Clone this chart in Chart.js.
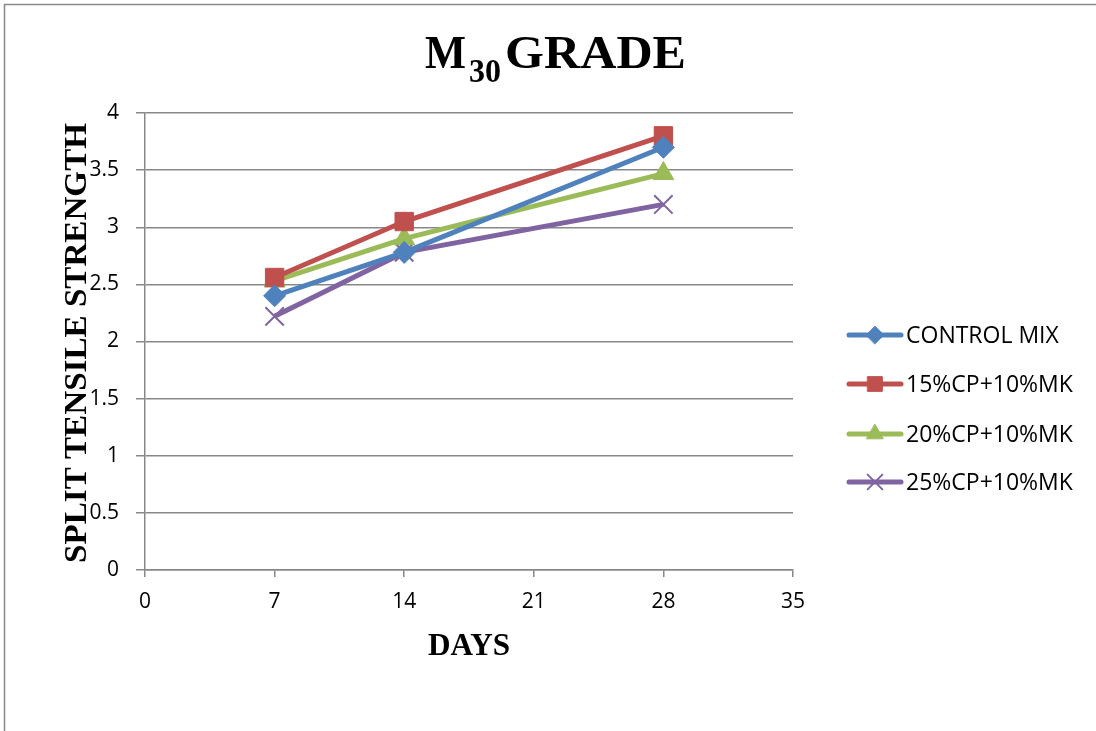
<!DOCTYPE html>
<html>
<head>
<meta charset="utf-8">
<script src="https://cdn.jsdelivr.net/npm/chart.js@4.4.1/dist/chart.umd.min.js"></script>
<style>
  html, body { margin: 0; padding: 0; background: #fff; }
  #wrap { width: 1096px; height: 731px; }
</style>
</head>
<body>
<div id="wrap"><canvas id="chart" width="1096" height="731"></canvas></div>
<script>
const days = [7, 14, 28];
const seriesNames = ['CONTROL MIX', '15%CP+10%MK', '20%CP+10%MK', '25%CP+10%MK'];
const controlMix = [2.4, 2.78, 3.7];
const cp15 = [2.56, 3.05, 3.8];
const cp20 = [2.53, 2.9, 3.47];
const cp25 = [2.22, 2.78, 3.2];
const xTicks = [0, 7, 14, 21, 28, 35];
const yTicks = [0, 0.5, 1, 1.5, 2, 2.5, 3, 3.5, 4];

const colors = ['#4F81BD', '#C0504D', '#9BBB59', '#8064A2'];
const markers = ['rectRot', 'rect', 'triangle', 'crossRot'];
const markerSize = [11, 13, 12, 13];
const allValues = [controlMix, cp15, cp20, cp25];

const datasets = allValues.map((vals, i) => ({
  label: seriesNames[i],
  data: vals.map((v, j) => ({ x: days[j], y: v })),
  borderColor: colors[i],
  backgroundColor: colors[i],
  borderWidth: 5,
  pointStyle: markers[i],
  pointRadius: markerSize[i],
  pointBorderWidth: markers[i] === 'crossRot' ? 2 : 1,
  pointBorderColor: colors[i],
  pointBackgroundColor: colors[i],
  tension: 0
}));

// draws text stretched to a given width
function fitText(c, text, x, y, width) {
  const w = c.measureText(text).width;
  c.save();
  c.translate(x, y);
  c.scale(width / w, 1);
  c.fillText(text, 0, 0);
  c.restore();
}

const decor = {
  id: 'decor',
  beforeDraw(chart) {
    const c = chart.ctx;
    c.save();
    c.fillStyle = '#fff';
    c.fillRect(0, 0, chart.width, chart.height);
    c.strokeStyle = '#888';
    c.lineWidth = 1.5;
    c.beginPath();
    c.moveTo(4.5, chart.height);
    c.lineTo(4.5, 4.5);
    c.lineTo(chart.width, 4.5);
    c.stroke();
    c.restore();
  },
  afterDraw(chart) {
    const c = chart.ctx;
    c.save();
    c.fillStyle = '#000';
    // title: M with subscript 30
    c.textBaseline = 'alphabetic';
    c.textAlign = 'left';
    c.font = 'bold 46px "Liberation Serif"';
    fitText(c, 'M', 425, 68, 41);
    c.font = 'bold 33px "Liberation Serif"';
    fitText(c, '30', 469, 82, 32);
    c.font = 'bold 47px "Liberation Serif"';
    fitText(c, 'GRADE', 505, 68, 181);

    // axis titles
    c.font = 'bold 31px "Liberation Serif"';
    c.textAlign = 'left';
    c.textBaseline = 'middle';
    fitText(c, 'DAYS', 428, 647, 82);
    c.translate(78, 563);
    c.rotate(-Math.PI / 2);
    c.font = 'bold 31px "Liberation Serif"';
    fitText(c, 'SPLIT TENSILE STRENGTH', 0, 0, 440);
    c.restore();

    // legend with line + marker
    c.save();
    const legY = [335, 384, 434, 482];
    chart.data.datasets.forEach((ds, i) => {
      const y = legY[i];
      c.strokeStyle = ds.borderColor;
      c.lineWidth = 5;
      c.lineCap = 'round';
      c.beginPath();
      c.moveTo(849, y);
      c.lineTo(901, y);
      c.stroke();
      c.fillStyle = ds.borderColor;
      c.lineWidth = ds.pointBorderWidth;
      Chart.helpers.drawPoint(c, {
        pointStyle: ds.pointStyle,
        radius: ds.pointRadius * 0.8,
        rotation: 0,
        borderWidth: ds.pointBorderWidth
      }, 875, y);
      c.fillStyle = '#000';
      c.font = '23px "Open Sans"';
      c.textAlign = 'left';
      c.textBaseline = 'middle';
      c.fillText(ds.label, 906, y + 1);
    });
    c.restore();
  }
};

new Chart(document.getElementById('chart'), {
  type: 'line',
  data: { datasets },
  options: {
    responsive: false,
    animation: false,
    layout: { padding: { top: 113, right: 303, left: 0, bottom: 0 } },
    plugins: {
      legend: { display: false },
      tooltip: { enabled: false }
    },
    scales: {
      x: {
        type: 'linear',
        min: 0,
        max: 35,
        afterBuildTicks: (s) => { s.ticks = xTicks.map(v => ({ value: v })); },
        afterFit: (s) => { s.height = 161; },
        ticks: { color: '#000', font: { family: 'Open Sans', size: 21 }, padding: 12 },
        grid: { drawOnChartArea: false, drawTicks: true, tickLength: 7, color: '#888', lineWidth: 1.5 },
        border: { color: '#888', width: 1.5 }
      },
      y: {
        min: 0,
        max: 4,
        afterBuildTicks: (s) => { s.ticks = yTicks.map(v => ({ value: v })); },
        afterFit: (s) => { s.width = 145; },
        ticks: {
          color: '#000',
          font: { family: 'Open Sans', size: 21 },
          padding: 17,
          callback: (v) => String(v)
        },
        grid: { color: '#888', lineWidth: 1.5, tickLength: 9 },
        border: { color: '#888', width: 1.5 }
      }
    }
  },
  plugins: [decor]
});
</script>
</body>
</html>
